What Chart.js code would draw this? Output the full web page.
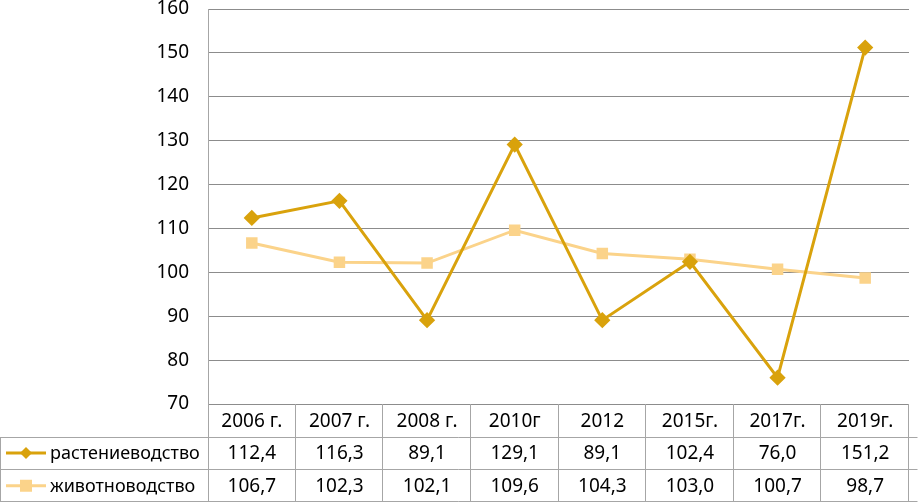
<!DOCTYPE html>
<html>
<head>
<meta charset="utf-8">
<script src="https://cdn.jsdelivr.net/npm/chart.js@4"></script>
<style>
    html, body { margin: 0; padding: 0; background: #fff; }
    #wrap { width: 918px; height: 502px; }
</style>
</head>
<body>
<div id="wrap"><canvas id="chart" width="918" height="502"></canvas></div>
<script>
// Data
const categories = ["2006 г.", "2007 г.", "2008 г.", "2010г", "2012", "2015г.", "2017г.", "2019г."];
const plantValues = [112.4, 116.3, 89.1, 129.1, 89.1, 102.4, 76.0, 151.2];
const animalValues = [106.7, 102.3, 102.1, 109.6, 104.3, 103.0, 100.7, 98.7];
const seriesNames = ["растениеводство", "животноводство"];

const plantColor = "#D9A20C";
const animalColor = "#FBD38A";
const gridColor = "#8c8c8c";
const tableLine = "#a6a6a6";
const FONT = "'Noto Sans', sans-serif";

function fmt(v) {
    return v.toFixed(1).replace(".", ",");
}

// Data table under the plot, drawn from the x scale
const dataTable = {
    id: "dataTable",
    afterDraw(chart) {
        const ctx = chart.ctx;
        const area = chart.chartArea;
        const xs = chart.scales.x;
        const top = area.bottom;
        const rowH = 32.7;
        const bottom = chart.height - 0.5;
        const right = chart.width - 0.5;
        const n = categories.length;
        const colW = (area.right - area.left) / n;

        ctx.save();
        ctx.strokeStyle = tableLine;
        ctx.lineWidth = 1;
        ctx.beginPath();
        // horizontal lines
        for (let r = 1; r <= 2; r++) {
            const y = Math.round(top + rowH * r) + 0.5;
            ctx.moveTo(0, y);
            ctx.lineTo(right, y);
        }
        ctx.moveTo(0, bottom);
        ctx.lineTo(right, bottom);
        // vertical lines
        for (let i = 1; i <= n; i++) {
            const x = Math.round(area.left + colW * i) - 0.5;
            ctx.moveTo(x, top);
            ctx.lineTo(x, bottom);
        }
        ctx.moveTo(Math.round(area.left) + 0.5, top);
        ctx.lineTo(Math.round(area.left) + 0.5, bottom);
        ctx.moveTo(0.5, Math.round(top + rowH) + 0.5);
        ctx.lineTo(0.5, bottom);
        ctx.stroke();

        // text
        ctx.fillStyle = "#000";
        ctx.font = "19px " + FONT;
        ctx.textAlign = "center";
        ctx.textBaseline = "middle";
        categories.forEach((c, i) => {
            const x = xs.getPixelForValue(i);
            ctx.fillText(c, x, top + rowH * 0.5 + 1);
            ctx.fillText(fmt(plantValues[i]), x, top + rowH * 1.5 + 1);
            ctx.fillText(fmt(animalValues[i]), x, top + rowH * 2.5 + 1);
        });

        // legend keys
        const keys = [
            { color: plantColor, style: "diamond" },
            { color: animalColor, style: "square" }
        ];
        ctx.font = "18px " + FONT;
        keys.forEach((k, r) => {
            const y = top + rowH * (r + 1.5);
            ctx.strokeStyle = k.color;
            ctx.lineWidth = 3;
            ctx.beginPath();
            ctx.moveTo(6, y);
            ctx.lineTo(46, y);
            ctx.stroke();
            ctx.fillStyle = k.color;
            ctx.beginPath();
            if (k.style === "diamond") {
                ctx.moveTo(26, y - 6);
                ctx.lineTo(32, y);
                ctx.lineTo(26, y + 6);
                ctx.lineTo(20, y);
                ctx.closePath();
            } else {
                ctx.rect(20, y - 6, 12, 12);
            }
            ctx.fill();
            ctx.fillStyle = "#000";
            ctx.textAlign = "left";
            ctx.fillText(seriesNames[r], 50, y + 1);
        });
        ctx.restore();
    }
};

const ctx = document.getElementById("chart").getContext("2d");
new Chart(ctx, {
    type: "line",
    data: {
        labels: categories,
        datasets: [
            {
                label: seriesNames[1],
                data: animalValues,
                borderColor: animalColor,
                backgroundColor: animalColor,
                borderWidth: 3,
                pointStyle: "rect",
                pointRadius: 6,
                pointHoverRadius: 6,
                tension: 0,
                order: 2
            },
            {
                label: seriesNames[0],
                data: plantValues,
                borderColor: plantColor,
                backgroundColor: plantColor,
                borderWidth: 3,
                pointStyle: "rectRot",
                pointRadius: 6,
                pointHoverRadius: 6,
                tension: 0,
                order: 1
            }
        ]
    },
    options: {
        responsive: false,
        animation: false,
        layout: { padding: { top: 7, right: 0, bottom: 98, left: 0 } },
        plugins: {
            legend: { display: false },
            tooltip: { enabled: false }
        },
        scales: {
            x: {
                display: false,
                offset: true
            },
            y: {
                min: 70,
                max: 160,
                ticks: {
                    stepSize: 10,
                    padding: 19,
                    color: "#000",
                    font: { family: FONT, size: 19 }
                },
                grid: {
                    color: gridColor,
                    drawTicks: false
                },
                border: { display: true, color: tableLine },
                afterFit(scale) {
                    scale.width = 208;
                    scale.paddingTop = 0;
                    scale.paddingBottom = 0;
                }
            }
        }
    },
    plugins: [dataTable]
});
</script>
</body>
</html>
